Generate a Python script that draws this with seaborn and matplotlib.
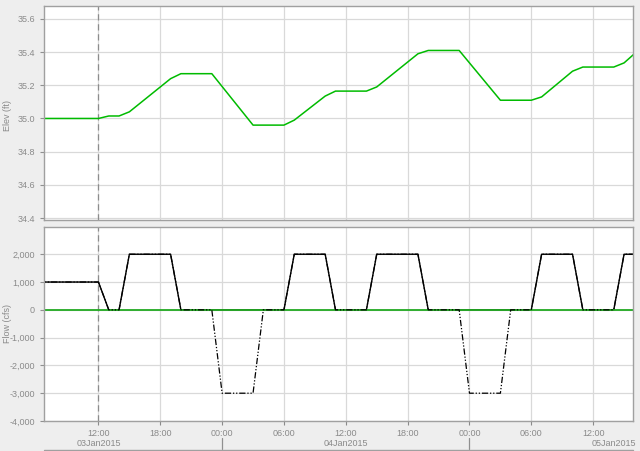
import matplotlib
matplotlib.use("Agg")
import matplotlib.pyplot as plt
import matplotlib.dates as mdates
import matplotlib.ticker as mticker
import matplotlib.transforms as mtransforms
import seaborn as sns
import pandas as pd

# Elevation (ft) - vertices of the green line
elev_times = ["2015-01-03 06:00", "2015-01-03 12:00", "2015-01-03 13:00", "2015-01-03 14:00",
              "2015-01-03 15:00", "2015-01-03 19:00", "2015-01-03 20:00", "2015-01-03 23:00",
              "2015-01-04 03:00", "2015-01-04 06:00", "2015-01-04 07:00", "2015-01-04 10:00",
              "2015-01-04 11:00", "2015-01-04 14:00", "2015-01-04 15:00", "2015-01-04 19:00",
              "2015-01-04 20:00", "2015-01-04 23:00", "2015-01-05 03:00", "2015-01-05 06:00",
              "2015-01-05 07:00", "2015-01-05 10:00", "2015-01-05 11:00", "2015-01-05 14:00",
              "2015-01-05 15:00", "2015-01-05 16:00"]
elev_values = [35.0, 35.0, 35.015, 35.015, 35.04, 35.24, 35.27, 35.27,
               34.96, 34.96, 34.99, 35.135, 35.165, 35.165, 35.19, 35.39,
               35.41, 35.41, 35.11, 35.11, 35.13, 35.285, 35.31, 35.31,
               35.335, 35.39]

# Flow (cfs)
flow_times = ["2015-01-03 06:00", "2015-01-03 12:00", "2015-01-03 13:00", "2015-01-03 14:00",
              "2015-01-03 15:00", "2015-01-03 19:00", "2015-01-03 20:00", "2015-01-03 23:00",
              "2015-01-04 00:00", "2015-01-04 03:00", "2015-01-04 04:00", "2015-01-04 06:00",
              "2015-01-04 07:00", "2015-01-04 10:00", "2015-01-04 11:00", "2015-01-04 14:00",
              "2015-01-04 15:00", "2015-01-04 19:00", "2015-01-04 20:00", "2015-01-04 23:00",
              "2015-01-05 00:00", "2015-01-05 03:00", "2015-01-05 04:00", "2015-01-05 06:00",
              "2015-01-05 07:00", "2015-01-05 10:00", "2015-01-05 11:00", "2015-01-05 14:00",
              "2015-01-05 15:00", "2015-01-05 16:00"]
outflow = [1000, 1000, 0, 0, 2000, 2000, 0, 0, 0, 0, 0, 0, 2000, 2000, 0, 0,
           2000, 2000, 0, 0, 0, 0, 0, 0, 2000, 2000, 0, 0, 2000, 2000]
net_flow = [1000, 1000, 0, 0, 2000, 2000, 0, 0, -3000, -3000, 0, 0, 2000, 2000, 0, 0,
            2000, 2000, 0, 0, -3000, -3000, 0, 0, 2000, 2000, 0, 0, 2000, 2000]
spill = [0] * len(flow_times)

forecast_start = "2015-01-03 12:00"
x_start, x_end = "2015-01-03 06:43", "2015-01-05 15:52"
day_labels = ["03Jan2015", "04Jan2015", "05Jan2015"]

elev_df = pd.DataFrame({"time": pd.to_datetime(elev_times), "elev": elev_values})
flow_df = pd.DataFrame({"time": pd.to_datetime(flow_times), "outflow": outflow,
                        "net": net_flow, "spill": spill})

sns.set_style("whitegrid")
plt.rcParams["font.family"] = ["Liberation Sans", "DejaVu Sans"]
bg = "#eeeeee"
grid_c = "#d9d9d9"
txt_c = "#8a8a8a"
spine_c = "#a0a0a0"

fig = plt.figure(figsize=(6.4, 4.51), dpi=100, facecolor=bg)
ax1 = fig.add_axes([44 / 640, 1 - 220 / 451, 589 / 640, 214 / 451])
ax2 = fig.add_axes([44 / 640, 1 - 421 / 451, 589 / 640, 194 / 451], sharex=ax1)

sns.lineplot(data=elev_df, x="time", y="elev", color="#00bb00", linewidth=1.1, ax=ax1)

sns.lineplot(data=flow_df, x="time", y="outflow", color="black", linewidth=1.0, ax=ax2)
sns.lineplot(data=flow_df, x="time", y="spill", color="#22aa22", linewidth=1.3, ax=ax2)
sns.lineplot(data=flow_df, x="time", y="net", color="black", linewidth=0.9,
             linestyle=(0, (5, 1.5, 1, 1.5, 1, 1.5)), ax=ax2)

t0 = pd.Timestamp(forecast_start)
for ax in (ax1, ax2):
    ax.axvline(t0, color="#8c8c8c", linewidth=0.9, linestyle=(0, (5, 3)), zorder=1)
    ax.set_facecolor("white")
    ax.grid(True, color=grid_c, linewidth=0.9)
    for s in ax.spines.values():
        s.set_color(spine_c)
        s.set_linewidth(1.0)
    ax.tick_params(colors=txt_c, labelsize=6.5, length=3, width=0.8, direction="out")
    ax.tick_params(axis="y", left=True, color="#909090")
    ax.set_xlabel("")

ax1.set_xlim(pd.Timestamp(x_start), pd.Timestamp(x_end))
ax1.set_ylim(34.388, 35.678)
ax1.yaxis.set_major_locator(mticker.MultipleLocator(0.2))
ax1.yaxis.set_major_formatter(mticker.FormatStrFormatter("%.1f"))
ax1.set_ylabel("Elev (ft)", color=txt_c, fontsize=6.5)
ax1.yaxis.set_label_coords(-0.054, 0.49)
ax1.tick_params(axis="x", labelbottom=False, length=0)

ax2.set_ylim(-4000, 2980)
ax2.yaxis.set_major_locator(mticker.MultipleLocator(1000))
ax2.yaxis.set_major_formatter(mticker.FuncFormatter(lambda v, p: f"{v:,.0f}"))
ax2.set_ylabel("Flow (cfs)", color=txt_c, fontsize=6.5)
ax2.yaxis.set_label_coords(-0.054, 0.505)
ax2.xaxis.set_major_locator(mdates.HourLocator(byhour=[0, 6, 12, 18]))
ax2.xaxis.set_major_formatter(mdates.DateFormatter("%H:%M"))
ax2.tick_params(axis="x", bottom=True, pad=3)

# date row below time labels
trans = mtransforms.blended_transform_factory(ax2.transData, ax2.transAxes)
days = pd.date_range("2015-01-03", periods=3, freq="D")
for i, (d, lab) in enumerate(zip(days, day_labels)):
    if i < len(days) - 1:
        ax2.text(d + pd.Timedelta(hours=12), -0.118, lab, transform=trans, ha="center",
                 va="center", color=txt_c, fontsize=6.5)
    else:
        ax2.text(1.006, -0.118, lab, transform=ax2.transAxes, ha="right", va="center",
                 color=txt_c, fontsize=6.5)
    if i > 0:
        ax2.plot([d, d], [-0.088, -0.144], transform=trans, color="#909090",
                 linewidth=0.9, clip_on=False)
ax2.plot([0, 1], [-0.149, -0.149], transform=ax2.transAxes, color=spine_c,
         linewidth=1.0, clip_on=False)

fig.savefig("out.png", dpi=100, facecolor=bg)
